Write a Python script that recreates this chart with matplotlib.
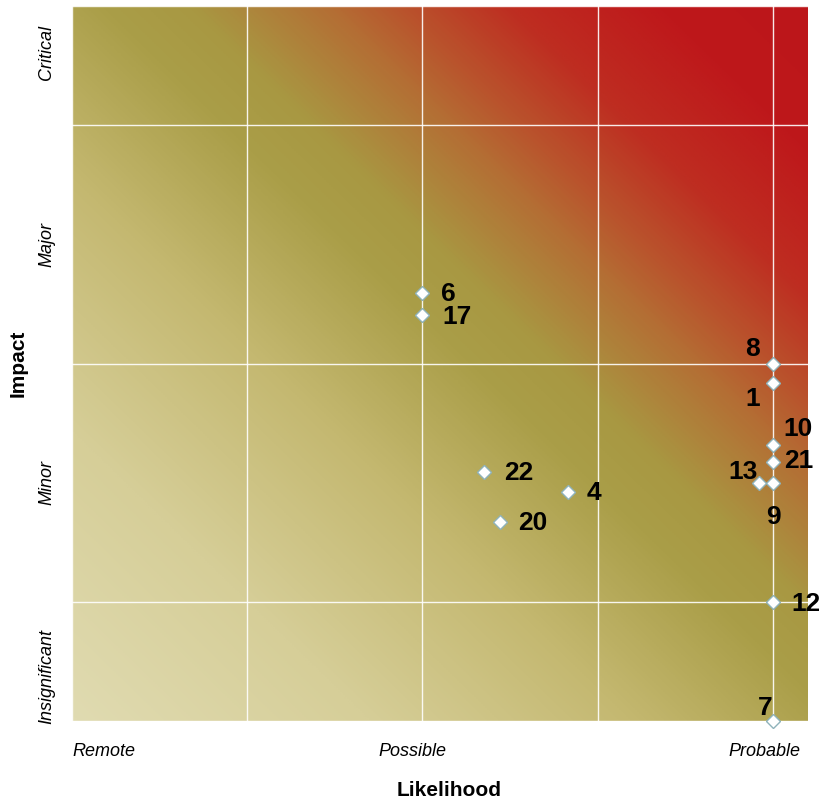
import numpy as np
import matplotlib
matplotlib.use("Agg")
import matplotlib.pyplot as plt
from matplotlib.colors import LinearSegmentedColormap

plt.rcParams['font.family'] = ['Liberation Sans', 'DejaVu Sans']

# risk register: id, likelihood (0 = remote .. 4 = probable), impact (0 = insignificant .. 6 = critical)
risk_ids = ['6', '17', '8', '1', '10', '21', '9', '13', '22', '4', '20', '12', '7']
likelihood = [2.0, 2.0, 4.0, 4.0, 4.0, 4.0, 4.0, 3.92, 2.35, 2.83, 2.44, 4.0, 4.0]
impact = [3.59, 3.41, 3.0, 2.84, 2.32, 2.17, 2.0, 2.0, 2.09, 1.92, 1.67, 1.0, 0.0]

x_labels = ['Remote', 'Possible', 'Probable']
y_labels = ['Insignificant', 'Minor', 'Major', 'Critical']

# label placement (offset in pixels, horizontal alignment)
label_pos = {
    '6': (19, -1, 'left'), '17': (20, -2, 'left'), '8': (-20, 15, 'center'),
    '1': (-20, -16, 'center'), '10': (10, 16, 'left'), '21': (11, 1, 'left'),
    '9': (0, -34, 'center'), '13': (-16, 11, 'center'), '22': (20, -1, 'left'),
    '4': (19, -1, 'left'), '20': (19, -1, 'left'), '12': (18, -2, 'left'),
    '7': (-8, 13, 'center'),
}
num_font = ['Liberation Sans Narrow', 'DejaVu Sans Condensed', 'Liberation Sans']

fig = plt.figure(figsize=(8.19, 8.06), dpi=100)
ax = fig.add_axes([72/819, 85/806, 736/819, 715/806])

xmax, ymax = 4.2, 6.0

# background gradient pale -> olive -> red along the diagonal
cmap = LinearSegmentedColormap.from_list('risk', [
    (0.00, (224/255, 219/255, 177/255)),
    (0.20, (214/255, 206/255, 152/255)),
    (0.38, (196/255, 184/255, 112/255)),
    (0.52, (170/255, 158/255, 72/255)),
    (0.58, (168/255, 152/255, 66/255)),
    (0.675, (180/255, 110/255, 52/255)),
    (0.72, (185/255, 85/255, 45/255)),
    (0.80, (190/255, 45/255, 33/255)),
    (0.90, (190/255, 24/255, 27/255)),
    (1.00, (188/255, 22/255, 26/255)),
])
gu, gv = np.meshgrid(np.linspace(0, 1, 400), np.linspace(0, 1, 400))
ax.imshow((gu + gv) / 2, cmap=cmap, vmin=0, vmax=1, origin='lower',
          extent=[0, xmax, 0, ymax], aspect='auto', zorder=-1, interpolation='bilinear')

ax.set_xlim(0, xmax)
ax.set_ylim(0, ymax)

ax.set_xticks(np.arange(0, 5), minor=True)
ax.set_yticks(np.arange(0, 7), minor=True)
ax.grid(which='minor', color='white', lw=1.0, alpha=0.9)
ax.tick_params(which='both', length=0)

ax.set_xticks([0.18, 1.94, 3.95])
ax.set_xticklabels(x_labels, fontstyle='italic', fontsize=13)
ax.set_yticks([0.37, 2.0, 4.0, 5.61])
ax.set_yticklabels(y_labels, fontstyle='italic', fontsize=13, rotation=90, va='center')
ax.tick_params(axis='x', pad=16)
ax.tick_params(axis='y', pad=12)

for s in ax.spines.values():
    s.set_visible(False)

ax.plot(likelihood, impact, 'D', ms=7, mfc='white', mec='#8fb3bb', mew=1.0,
        ls='none', clip_on=False, zorder=3)

for rid, x, y in zip(risk_ids, likelihood, impact):
    dx, dy, ha = label_pos[rid]
    ax.annotate(rid, (x, y), xytext=(dx, dy), textcoords='offset pixels',
                ha=ha, va='center', fontsize=19, fontweight='bold',
                family=num_font, annotation_clip=False, zorder=4)

ax.set_xlabel('Likelihood', fontsize=15, fontweight='bold', labelpad=15, x=0.512)
ax.set_ylabel('Impact', fontsize=15, fontweight='bold', labelpad=8)

fig.savefig('out.png', dpi=100)
